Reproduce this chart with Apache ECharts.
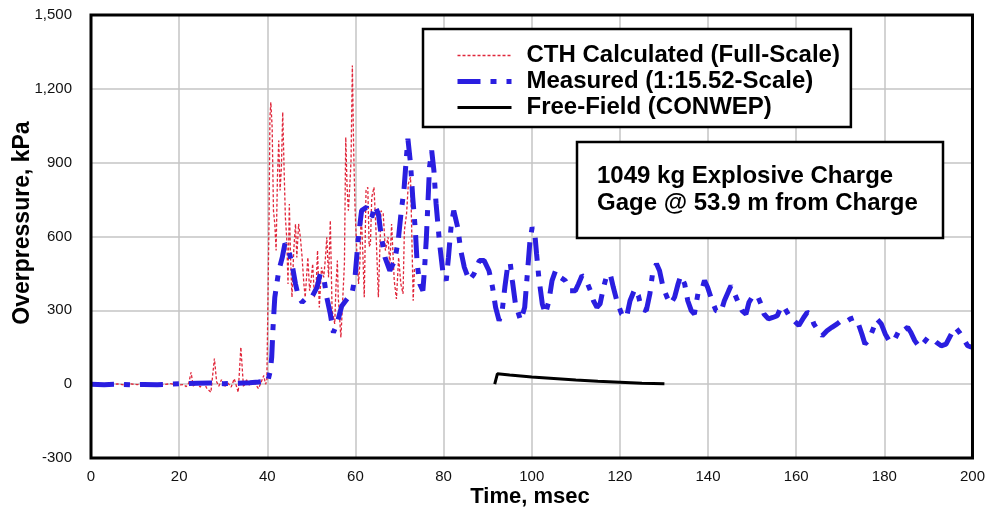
<!DOCTYPE html>
<html>
<head>
<meta charset="utf-8">
<script src="https://cdn.jsdelivr.net/npm/echarts@6/dist/echarts.min.js"></script>
<style>
html,body{margin:0;padding:0;background:#fff;}
#chart{width:988px;height:514px;}
</style>
</head>
<body>
<div id="chart"></div>
<script>
// ---- data (time in msec, overpressure in kPa) ----
const seriesNames = ['CTH Calculated (Full-Scale)', 'Measured (1:15.52-Scale)', 'Free-Field (CONWEP)'];
const xTicks = [0, 20, 40, 60, 80, 100, 120, 140, 160, 180, 200];
const yTicks = [-300, 0, 300, 600, 900, 1200, 1500];
const noteLines = ['1049 kg Explosive Charge', 'Gage @ 53.9 m from Charge'];

const cthTime = [0,1.5,3,4.5,6,7.5,9,10.5,12,13.5,15,16.5,18,19.5,21,21.6,22.2,22.7,23.2,24,24.8,25.5,26.2,27.2,28,28.5,29,29.6,30.3,31,31.8,32.5,33.4,34,34.6,35.3,36,36.8,37.5,38,38.6,39.2,39.6,39.9,40.4,40.6,40.8,41.1,41.4,41.7,42.0,42.3,42.6,42.9,43.2,43.5,43.8,44.1,44.4,44.7,45.0,45.3,45.6,46.0,46.4,46.7,47.1,47.5,47.9,48.3,48.6,49.2,49.6,50.0,50.3,50.7,51.1,51.4,51.8,52.3,52.8,53.2,53.5,53.9,54.3,54.7,55.3,55.6,55.9,56.1,56.7,57.1,57.5,57.8,58.1,58.4,58.7,59.0,59.3,59.6,59.9,60.3,60.7,61.0,61.3,61.7,62.0,62.4,62.8,63.1,63.4,63.7,64.2,64.6,65.2,65.8,66.3,66.8,67.4,67.8,68.2,68.8,69.3,69.8,70.3,70.8,71.1,71.6,72.0,72.5,72.8,73.1,73.4];
const cthKpa = [0,-3,2,-2,1,-3,1,-2,2,-3,1,-2,2,-3,-2,-10,5,48,-8,6,-12,15,-15,-33,104,10,-8,18,-10,6,-12,22,-33,150,-12,18,-6,12,-5,-18,8,35,0,14,678,1085,1145,1044,705,651,543,841,990,787,881,1105,881,678,597,407,732,502,353,543,651,515,651,597,515,407,353,515,380,434,489,353,407,543,312,475,434,515,597,434,665,299,245,407,502,353,190,339,489,1003,800,705,800,908,1295,949,719,543,407,489,705,520,353,787,800,560,570,759,800,651,353,705,692,543,597,480,651,421,346,515,407,367,624,692,814,841,597,339,475];

const measTime = [0,3,6,9,12,15,18,21,24,27,30,33,36,38,39.5,40.1,40.4,40.7,41.0,41.3,41.7,42.6,43.4,44.0,44.7,45.6,46.4,47.1,47.9,49.0,50.1,51.3,52.0,52.8,53.5,54.3,55.0,55.8,56.9,58.4,59.2,59.9,60.7,61.4,62.5,63.7,64.4,65.2,65.9,66.7,67.8,68.9,69.7,70.4,71.0,71.5,71.9,72.5,73.0,73.6,74.0,74.6,75.3,75.7,76.1,76.5,76.8,77.3,77.8,78.3,79.1,79.8,80.6,81.1,81.7,82.3,83.2,83.9,84.7,85.8,86.9,88.1,89.2,90.3,91.1,91.8,92.6,93.3,93.9,94.5,95.1,95.6,96.3,97.5,98.4,99.0,99.6,100.1,100.7,101.1,101.6,102.4,103.1,103.9,104.6,105.4,106.5,107.6,108.7,109.9,110.6,111.4,112.1,113.3,114.0,114.8,115.5,116.3,117.0,117.8,118.5,119.3,120.4,121.5,122.3,123.4,124.2,124.9,126.0,126.8,127.4,128.3,129.0,129.8,130.7,131.5,132.4,133.2,133.8,134.7,135.4,136.2,136.9,137.7,138.4,139.2,139.9,140.9,141.8,142.9,143.7,144.7,145.2,145.9,146.7,147.7,148.6,149.3,150.2,151.2,152.0,152.7,153.7,154.7,155.7,156.7,157.5,158.4,159.5,160.6,161.7,162.5,163.2,164.0,165.0,165.9,167.0,168.1,169.3,170.2,171.1,172.3,173.2,174.0,174.9,175.6,176.4,177.3,178.3,179.3,180.2,181.3,182.4,183.5,184.3,185.3,186.0,186.9,188.0,189.0,189.9,191.0,191.8,192.9,194.0,195.2,196.1,197.0,198.0,198.9,199.8];
const measKpa = [0,-2,0,-3,-1,-2,0,2,4,5,2,4,6,9,12,10,14,55,109,231,353,461,515,571,556,489,407,353,333,353,353,394,448,434,353,285,210,245,318,353,367,434,605,705,719,678,726,692,597,515,461,502,583,705,787,908,997,895,759,624,489,407,380,475,597,759,881,949,868,732,570,461,421,515,640,705,637,543,475,421,448,502,502,461,394,312,258,299,394,475,495,421,326,258,312,448,583,637,611,529,434,326,285,339,421,461,434,421,380,380,407,441,434,380,339,312,326,394,441,448,394,339,285,271,339,387,360,306,299,367,448,489,461,394,353,326,353,407,441,407,339,299,285,367,373,421,394,339,299,292,339,380,400,373,339,299,285,333,360,360,326,285,265,271,278,319,306,278,258,238,271,292,285,245,217,197,217,231,245,258,251,265,271,251,204,163,177,217,265,245,204,170,184,224,217,231,211,177,150,170,190,184,170,156,163,204,231,211,184,156,150];

const ffTime = [91.6, 92.2, 95, 100, 105, 110, 115, 120, 125, 130.1];
const ffKpa = [0, 42, 37, 29, 23, 17, 12, 8, 4, 2];

const pairs = (t, v) => t.map((x, i) => [x, v[i]]);

const chart = echarts.init(document.getElementById('chart'), null, {renderer: 'canvas'});
const gridL = 91, gridT = 15, gridR = 11, gridB = 56;

chart.setOption({
  animation: false,
  backgroundColor: '#fff',
  grid: {left: gridL, right: gridR, top: gridT, bottom: gridB, show: true, borderColor: '#000', borderWidth: 3, backgroundColor: 'transparent', z: 5},
  xAxis: {
    type: 'value', min: xTicks[0], max: xTicks[xTicks.length - 1], interval: 20,
    axisLine: {show: false}, axisTick: {show: false},
    splitLine: {show: true, lineStyle: {color: '#c4c4c4', width: 1.5}},
    axisLabel: {color: '#111', fontFamily: 'Liberation Sans, Arial, sans-serif', fontSize: 15, margin: 11}
  },
  yAxis: {
    type: 'value', min: yTicks[0], max: yTicks[yTicks.length - 1], interval: 300,
    axisLine: {show: false}, axisTick: {show: false},
    splitLine: {show: true, lineStyle: {color: '#c4c4c4', width: 1.5}},
    axisLabel: {color: '#111', fontFamily: 'Liberation Sans, Arial, sans-serif', fontSize: 15, margin: 19,
      formatter: v => v.toLocaleString('en-US')}
  },
  legend: {
    orient: 'vertical', left: 423, top: 29,
    data: seriesNames,
    backgroundColor: '#fff', borderColor: '#000', borderWidth: 2.5, borderRadius: 0,
    padding: [14, 11, 7, 32],
    itemWidth: 54, itemHeight: 14, itemGap: 1,
    itemStyle: {opacity: 0},
    lineStyle: {width: 'inherit', type: 'inherit', cap: 'butt'},
    textStyle: {fontFamily: 'Liberation Sans, Arial, sans-serif', fontWeight: 'bold', fontSize: 24, color: '#000', lineHeight: 25, padding: [0, 0, 0, 10]},
    selectedMode: false, z: 20
  },
  graphic: [
    {type: 'rect', z: 20, shape: {x: 577, y: 142, width: 366, height: 96}, style: {fill: '#fff', stroke: '#000', lineWidth: 2.5}},
    {type: 'text', z: 21, left: 597, top: 163, style: {text: noteLines.join('\n'), font: 'bold 24px "Liberation Sans", Arial, sans-serif', fill: '#000', lineHeight: 27}},
    {type: 'text', z: 21, x: 530, y: 497, style: {text: 'Time, msec', font: 'bold 22px "Liberation Sans", Arial, sans-serif', fill: '#000', align: 'center', verticalAlign: 'middle'}},
    {type: 'text', z: 21, x: 23, y: 223, rotation: Math.PI / 2, style: {text: 'Overpressure, kPa', font: 'bold 23px "Liberation Sans", Arial, sans-serif', fill: '#000', align: 'center', verticalAlign: 'middle'}}
  ],
  series: [
    {
      name: seriesNames[0], type: 'line', data: pairs(cthTime, cthKpa), showSymbol: false, symbol: 'none',
      lineStyle: {color: '#e0263a', width: 1.3, type: [3, 2]}, itemStyle: {color: '#e0263a'}, z: 3
    },
    {
      name: seriesNames[1], type: 'line', data: pairs(measTime, measKpa), showSymbol: false, symbol: 'none',
      lineStyle: {color: '#2a1ee0', width: 5, type: [23, 10, 6, 10], cap: 'butt'}, itemStyle: {color: '#2a1ee0'}, z: 4
    },
    {
      name: seriesNames[2], type: 'line', data: pairs(ffTime, ffKpa), showSymbol: false, symbol: 'none',
      lineStyle: {color: '#000', width: 3}, itemStyle: {color: '#000'}, z: 4
    }
  ]
});
</script>
</body>
</html>
